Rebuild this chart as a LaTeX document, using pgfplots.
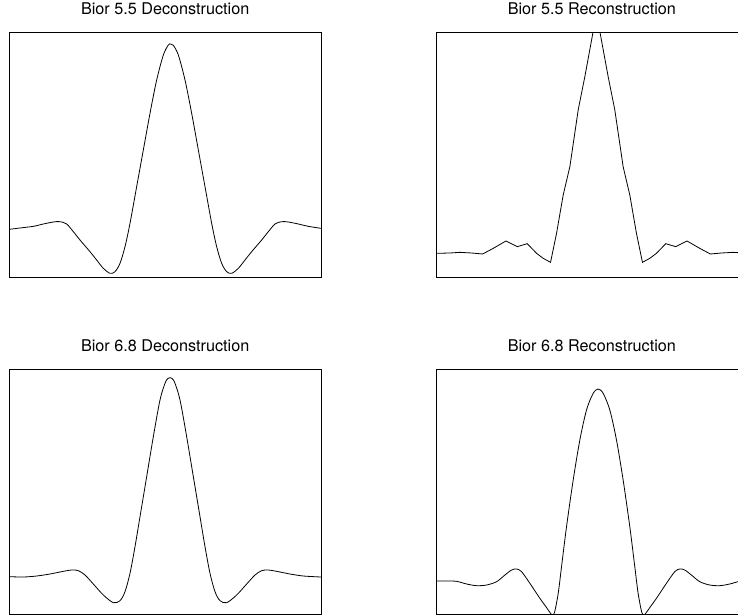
\documentclass[border=0pt]{standalone}
\usepackage{fontspec}
\setmainfont{TeX Gyre Heros}
\usepackage{pgfplots}
\pgfplotsset{compat=1.18}
\pgfplotsset{
  wv/.style={
    scale only axis,
    width=311.67pt, height=244.67pt,
    anchor=south west,
    xtick=\empty, ytick=\empty,
    y dir=reverse,
    axis line style={line width=0.9pt, black},
    title style={at={(0.5,1)}, anchor=base, yshift=12pt, font=\fontsize{16.2}{18}\selectfont},
    clip=true,
  },
  cv/.style={black, line width=0.8pt, mark=none},
}
\begin{document}
\begin{tikzpicture}[x=1pt,y=1pt]
% Panel 1
\begin{axis}[wv, at={(9.33pt,-277.33pt)}, xmin=28, xmax=963, ymin=38, ymax=772,
  title={Bior 5.5 Deconstruction}]
\addplot[cv, smooth] coordinates {
(28,628)(60,624)(100,619)(130,612)(160,606)(180,605)(200,612)(220,635)(240,660)
(270,695)(290,720)(310,745)(330,760)(345,755)(360,730)(375,680)(390,610)(410,500)
(430,390)(450,280)(470,180)(490,105)(505,75)(512,72)(520,76)(535,105)(555,180)
(575,280)(595,390)(615,500)(635,610)(650,680)(665,730)(680,755)(695,760)(715,745)
(735,720)(755,695)(785,660)(805,635)(825,612)(845,605)(865,606)(895,612)(925,619)(963,625)
};
\end{axis}
% Panel 2
\begin{axis}[wv, at={(436pt,-277.33pt)}, xmin=18, xmax=954, ymin=38, ymax=772,
  title={Bior 5.5 Reconstruction}]
\addplot[cv] coordinates {
(18,700)(60,699)(90,697)(125,699)(158,702)(190,685)(228,663)(262,680)(292,671)
(320,700)(340,715)(362,727)(380,640)(400,525)(420,440)(445,270)(465,170)(500,-20)
(535,170)(555,270)(580,440)(600,525)(620,640)(638,727)(660,715)(680,700)(708,671)
(738,680)(772,663)(810,685)(842,702)(875,699)(910,697)(940,699)(982,700)
};
\end{axis}
% Panel 3
\begin{axis}[wv, at={(9.33pt,-614pt)}, xmin=28, xmax=963, ymin=28, ymax=762,
  title={Bior 6.8 Deconstruction}]
\addplot[cv, smooth] coordinates {
(28,650)(70,651)(110,648)(150,642)(185,635)(215,630)(235,632)(255,645)(280,672)
(310,705)(340,728)(360,722)(375,695)(390,640)(405,560)(420,470)(440,350)(460,230)
(480,120)(497,65)(510,53)(523,65)(540,120)(560,230)(580,350)(600,470)(615,560)
(630,640)(645,695)(660,722)(680,728)(710,705)(740,672)(765,645)(785,632)(805,630)
(835,635)(870,642)(910,648)(963,651)
};
\end{axis}
% Panel 4
\begin{axis}[wv, at={(436pt,-614pt)}, xmin=18, xmax=954, ymin=28, ymax=762,
  title={Bior 6.8 Reconstruction}]
\addplot[cv, smooth] coordinates {
(18,663)(50,663)(80,664)(110,672)(140,677)(170,675)(200,665)(225,645)(245,630)
(260,627)(275,635)(300,670)(330,715)(348,740)(360,757)(367,765)(374,757)(385,700)
(395,620)(410,500)(430,360)(450,240)(470,150)(490,100)(505,87)(520,100)(540,150)
(560,240)(580,360)(600,500)(615,620)(625,700)(636,757)(643,765)(650,757)(662,740)
(680,715)(710,670)(735,635)(750,627)(765,630)(785,645)(810,665)(840,675)(870,677)
(900,672)(930,664)(960,663)(992,663)
};
\end{axis}
\pgfresetboundingbox
\path[use as bounding box] (0,0) rectangle (738pt,-615pt);
\end{tikzpicture}
\end{document}
